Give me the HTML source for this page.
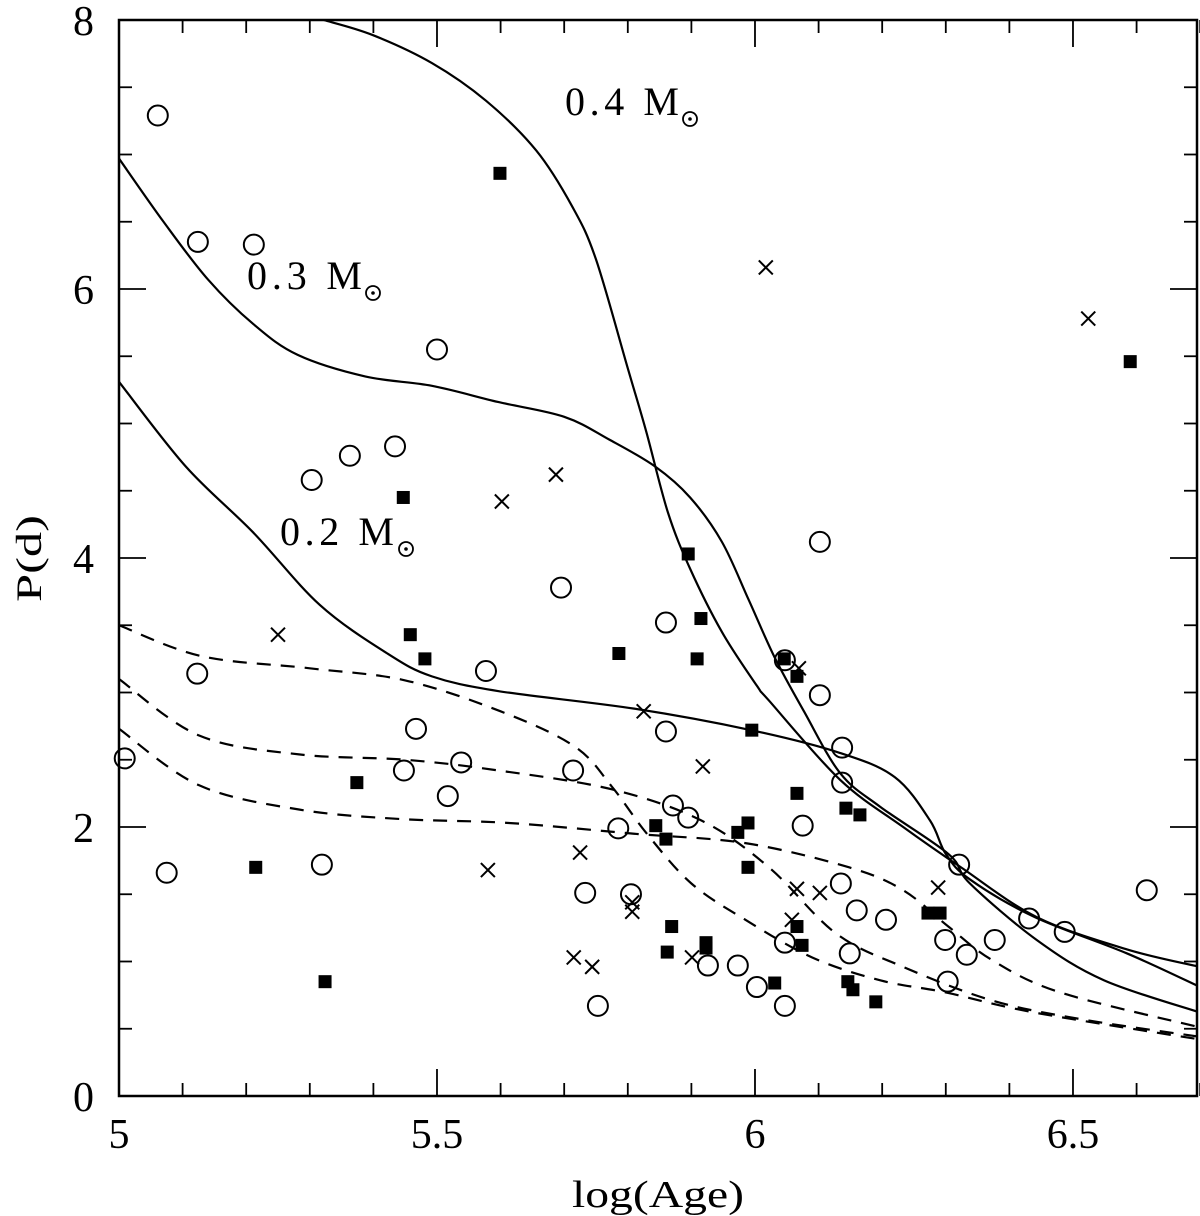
<!DOCTYPE html>
<html><head><meta charset="utf-8">
<style>
html,body{margin:0;padding:0;background:#fff;}
svg{display:block;font-family:"Liberation Serif",serif;}
</style></head>
<body>
<svg id="chart" width="1200" height="1216" viewBox="0 0 1200 1216" xmlns="http://www.w3.org/2000/svg">
<g id="curves"></g>
<g id="points"></g>
<g id="axes"></g>
<text x="572" y="1207" font-size="38" textLength="172" lengthAdjust="spacingAndGlyphs">log(Age)</text>
<text x="0" y="0" font-size="36" textLength="87" lengthAdjust="spacingAndGlyphs" transform="translate(41 602) rotate(-90)">P(d)</text>
<g><text x="565" y="115" font-size="40" textLength="114" lengthAdjust="spacing">0.4 M</text><circle cx="690" cy="119" r="7" fill="none" stroke="#000" stroke-width="1.8"/><circle cx="690" cy="119" r="1.8"/></g>
<g><text x="247" y="289" font-size="40" textLength="115" lengthAdjust="spacing">0.3 M</text><circle cx="373" cy="293" r="7" fill="none" stroke="#000" stroke-width="1.8"/><circle cx="373" cy="293" r="1.8"/></g>
<g><text x="280" y="545" font-size="40" textLength="114" lengthAdjust="spacing">0.2 M</text><circle cx="406" cy="549" r="7" fill="none" stroke="#000" stroke-width="1.8"/><circle cx="406" cy="549" r="1.8"/></g>
</svg>
<script>
const circlesX=[5.061,5.124,5.212,5.500,5.303,5.363,5.434,5.695,6.102,5.123,5.577,5.860,6.047,6.102,5.467,5.860,5.009,5.448,5.538,5.517,5.714,5.785,5.871,5.895,6.075,6.137,6.137,5.075,5.319,5.733,5.805,5.753,5.926,5.973,6.003,6.047,6.047,6.149,6.160,6.135,6.206,6.299,6.321,6.333,6.303,6.377,6.431,6.487,6.616];
const circlesY=[7.29,6.35,6.33,5.55,4.58,4.76,4.83,3.78,4.12,3.14,3.16,3.52,3.24,2.98,2.73,2.71,2.51,2.42,2.48,2.23,2.42,1.99,2.16,2.07,2.01,2.59,2.33,1.66,1.72,1.51,1.50,0.67,0.97,0.97,0.81,0.67,1.14,1.06,1.38,1.58,1.31,1.16,1.72,1.05,0.85,1.16,1.32,1.22,1.53];
const squaresX=[5.599,5.447,5.458,5.481,5.374,5.215,5.324,5.786,5.895,5.915,5.909,5.995,6.046,6.066,6.066,6.143,6.165,5.989,5.844,5.860,5.973,5.989,5.869,5.862,5.923,5.923,6.066,6.074,6.031,6.146,6.154,6.190,6.272,6.291,6.590];
const squaresY=[6.86,4.45,3.43,3.25,2.33,1.70,0.85,3.29,4.03,3.55,3.25,2.72,3.25,3.12,2.25,2.14,2.09,2.03,2.01,1.91,1.96,1.70,1.26,1.07,1.14,1.10,1.26,1.12,0.84,0.85,0.79,0.70,1.36,1.36,5.46];
const crossesX=[6.017,6.524,5.687,5.602,5.250,5.825,5.918,6.069,5.580,5.725,5.807,5.807,5.715,5.744,5.901,6.066,6.058,6.102,6.288];
const crossesY=[6.16,5.78,4.62,4.42,3.43,2.86,2.45,3.18,1.68,1.81,1.44,1.37,1.03,0.96,1.03,1.54,1.31,1.51,1.55];
const solid04X=[5.322,5.398,5.492,5.577,5.656,5.713,5.75,5.80,5.829,5.863,5.898,5.948,6.003,6.022,6.134,6.233,6.324,6.443,6.585,6.70];
const solid04Y=[8.0,7.89,7.68,7.40,7.03,6.61,6.22,5.41,4.94,4.34,3.92,3.45,3.05,2.94,2.35,2.0,1.70,1.33,1.09,0.96];
const solid03X=[5.0,5.07,5.14,5.211,5.281,5.387,5.492,5.596,5.70,5.771,5.843,5.898,5.948,5.99,6.031,6.077,6.134,6.197,6.304,6.338,6.443,6.549,6.70];
const solid03Y=[6.97,6.50,6.07,5.74,5.51,5.35,5.28,5.16,5.05,4.88,4.68,4.45,4.12,3.69,3.26,2.86,2.40,2.15,1.80,1.58,1.16,0.86,0.62];
const solid02X=[5.0,5.105,5.211,5.316,5.422,5.492,5.597,5.81,5.994,6.134,6.22,6.275,6.30,6.338,6.44,6.585,6.70];
const solid02Y=[5.31,4.68,4.19,3.65,3.29,3.12,3.01,2.88,2.72,2.55,2.37,2.05,1.80,1.61,1.33,1.06,0.81];
const dash1X=[5.0,5.13,5.3,5.45,5.6,5.716,5.775,5.83,5.90,5.985,6.09,6.197,6.30,6.44,6.70];
const dash1Y=[3.5,3.27,3.18,3.09,2.86,2.60,2.30,1.95,1.58,1.31,1.03,0.86,0.77,0.62,0.42];
const dash2X=[5.0,5.126,5.283,5.45,5.597,5.775,5.915,6.022,6.127,6.233,6.373,6.514,6.70];
const dash2Y=[3.1,2.68,2.54,2.50,2.42,2.28,2.05,1.70,1.21,0.96,0.71,0.57,0.44];
const dash3X=[5.0,5.126,5.283,5.44,5.613,5.81,5.985,6.148,6.233,6.304,6.373,6.48,6.70];
const dash3Y=[2.73,2.31,2.13,2.06,2.03,1.95,1.88,1.70,1.53,1.26,1.01,0.77,0.51];
const xTicks=[5,5.5,6,6.5];
const xTickLabels=["5","5.5","6","6.5"];
const yTicks=[0,2,4,6,8];
const yTickLabels=["0","2","4","6","8"];

const L=119,R=1197,T=20,B=1096,XMIN=5,XMAX=6.695,YMIN=0,YMAX=8;
const sx=v=>L+(v-XMIN)/(XMAX-XMIN)*(R-L);
const sy=v=>B-(v-YMIN)/(YMAX-YMIN)*(B-T);
const NS="http://www.w3.org/2000/svg";
function mk(tag,attrs,parent){const e=document.createElementNS(NS,tag);for(const k in attrs)e.setAttribute(k,attrs[k]);parent.appendChild(e);return e;}
function smooth(xs,ys){
  const p=xs.map((x,i)=>[sx(x),sy(ys[i])]);
  let d="M"+p[0][0]+","+p[0][1];
  for(let i=0;i<p.length-1;i++){
    const p0=p[Math.max(0,i-1)],p1=p[i],p2=p[i+1],p3=p[Math.min(p.length-1,i+2)];
    const c1=[p1[0]+(p2[0]-p0[0])/6,p1[1]+(p2[1]-p0[1])/6];
    const c2=[p2[0]-(p3[0]-p1[0])/6,p2[1]-(p3[1]-p1[1])/6];
    d+=" C"+c1+" "+c2+" "+p2;
  }
  return d;
}
const cg=document.getElementById('curves');
const curves=[[solid04X,solid04Y,'track-0.4-msun',null],[solid03X,solid03Y,'track-0.3-msun',null],[solid02X,solid02Y,'track-0.2-msun',null],[dash1X,dash1Y,'dashed-track-1','14,10'],[dash2X,dash2Y,'dashed-track-2','14,10'],[dash3X,dash3Y,'dashed-track-3','14,10']];
const clip=mk('clipPath',{id:'pc'},cg);mk('rect',{x:L,y:T,width:R-L,height:B-T},clip);
curves.forEach(c=>{
  const p=mk('path',{d:smooth(c[0],c[1]),fill:'none',stroke:'#000','stroke-width':2.2,'clip-path':'url(#pc)'},cg);
  if(c[3])p.setAttribute('stroke-dasharray',c[3]);
  
  
});
const pg=document.getElementById('points');
circlesX.forEach((x,i)=>{
  const e=mk('circle',{cx:sx(x),cy:sy(circlesY[i]),r:10,fill:'none',stroke:'#000','stroke-width':2},pg);
  
  
});
squaresX.forEach((x,i)=>{
  const e=mk('rect',{x:sx(x)-6.5,y:sy(squaresY[i])-6.5,width:13,height:13,fill:'#000'},pg);
  
  
});
crossesX.forEach((x,i)=>{
  const cx=sx(x),cy=sy(crossesY[i]),s=7;
  const e=mk('path',{d:`M${cx-s},${cy-s}L${cx+s},${cy+s}M${cx-s},${cy+s}L${cx+s},${cy-s}`,stroke:'#000','stroke-width':2},pg);
  
  
});
const ag=document.getElementById('axes');
mk('rect',{x:L,y:T,width:R-L,height:B-T,fill:'none',stroke:'#000','stroke-width':2.5},ag);
for(let k=0;k<=17;k++){
  const vv=5+k*0.1;const major=k%5===0;const len=major?27:13;const x=sx(vv);
  mk('line',{x1:x,y1:B,x2:x,y2:B-len,stroke:'#000','stroke-width':1.8},ag);
  mk('line',{x1:x,y1:T,x2:x,y2:T+len,stroke:'#000','stroke-width':1.8},ag);
}
for(let v=0;v<=8;v+=0.5){
  const major=v%2===0;const len=major?27:13;const y=sy(v);
  mk('line',{x1:L,y1:y,x2:L+len,y2:y,stroke:'#000','stroke-width':1.8},ag);
  mk('line',{x1:R,y1:y,x2:R-len,y2:y,stroke:'#000','stroke-width':1.8},ag);
}
xTicks.forEach((v,i)=>{
  const t=mk('text',{x:sx(v),y:1148,'font-size':42,'text-anchor':'middle'},ag);
  t.textContent=xTickLabels[i];
  
  
});
yTicks.forEach((v,i)=>{
  const t=mk('text',{x:94,y:sy(v)+15,'font-size':42,'text-anchor':'end'},ag);
  t.textContent=yTickLabels[i];
  
  
});
</script>
</body></html>
